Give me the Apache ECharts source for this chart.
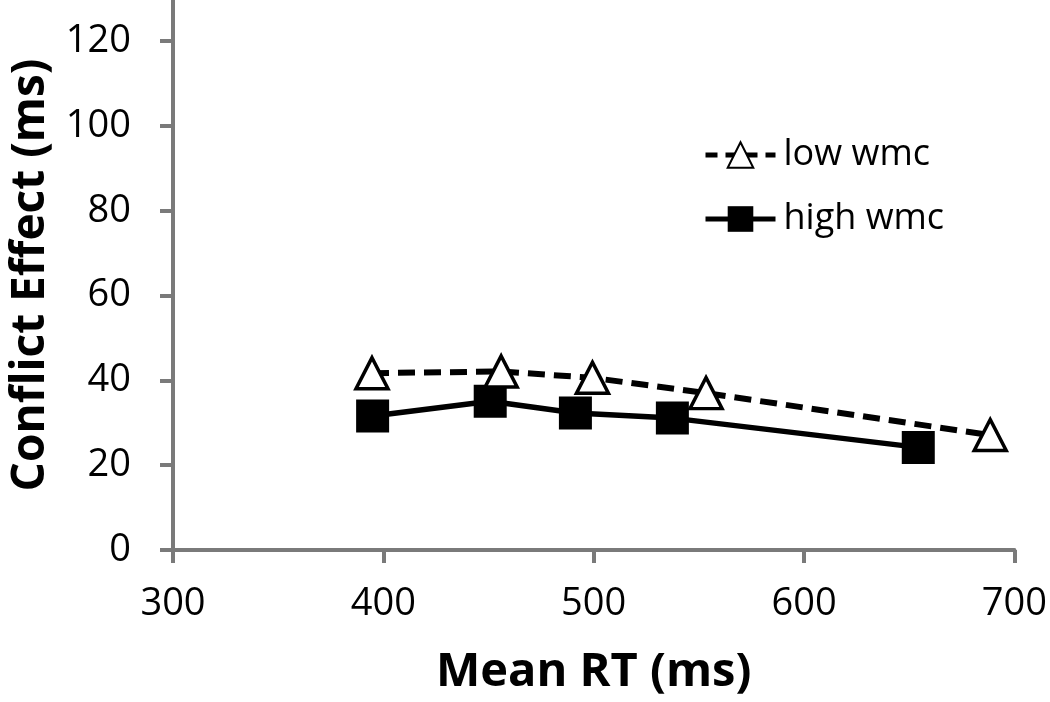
<!DOCTYPE html>
<html>
<head>
<meta charset="utf-8">
<script src="https://cdn.jsdelivr.net/npm/echarts@6/dist/echarts.min.js"></script>
<style>html,body{margin:0;padding:0;background:#fff}#c{width:1050px;height:702px}</style>
</head>
<body>
<div id="c"></div>
<script>
const lowX = [394.6, 456, 499.4, 553.4, 688.5];
const lowY = [41.7, 42.1, 40.6, 37.0, 27.1];
const highX = [394.9, 450.8, 491.3, 537.4, 654.3];
const highY = [31.6, 35.1, 32.3, 31.1, 24.2];
const yTicks = [0, 20, 40, 60, 80, 100, 120];
const xTicks = [300, 400, 500, 600, 700];
const seriesNames = ['low wmc', 'high wmc'];

const chart = echarts.init(document.getElementById('c'));
const axisColor = '#7a7a7a';
const font = '"Open Sans", "DejaVu Sans", sans-serif';
chart.setOption({
  animation: false,
  grid: { left: 170, right: 33, top: 0, bottom: 152 },
  legend: {
    data: [
      { name: seriesNames[0], lineStyle: { width: 5, type: [12, 8], color: '#000' } },
      { name: seriesNames[1], lineStyle: { width: 5, color: '#000' } }
    ],
    orient: 'vertical',
    left: 698, top: 132,
    itemWidth: 70, itemHeight: 32, itemGap: 28,
    textStyle: { fontFamily: font, fontSize: 36, color: '#000', padding: [0, 0, 0, 3] }
  },
  xAxis: {
    type: 'value', min: xTicks[0], max: xTicks[xTicks.length - 1], interval: 100,
    name: 'Mean RT (ms)', nameLocation: 'middle', nameGap: 99,
    nameTextStyle: { fontFamily: font, fontSize: 47, fontWeight: 'bold', color: '#000' },
    axisLine: { lineStyle: { color: axisColor, width: 4 } },
    axisTick: { show: true, length: 13, lineStyle: { color: axisColor, width: 4 } },
    axisLabel: { fontFamily: font, fontSize: 38, color: '#000', margin: 35 },
    splitLine: { show: false }
  },
  yAxis: {
    type: 'value', min: 0, max: 129.7,
    name: 'Conflict Effect (ms)', nameLocation: 'middle', nameGap: 119, nameRotate: 90,
    nameTextStyle: { fontFamily: font, fontSize: 46, fontWeight: 'bold', color: '#000' },
    axisLine: { show: true, lineStyle: { color: axisColor, width: 4 } },
    axisTick: { show: true, length: 13, customValues: yTicks, lineStyle: { color: axisColor, width: 4 } },
    axisLabel: { fontFamily: font, fontSize: 38, color: '#000', margin: 42, customValues: yTicks },
    splitLine: { show: false }
  },
  series: [
    {
      name: seriesNames[1], type: 'line', z: 2,
      data: highX.map((x, i) => [x, highY[i]]),
      symbol: 'rect', symbolSize: 33,
      lineStyle: { color: '#000', width: 5.5 },
      itemStyle: { color: '#000', borderColor: '#000', borderWidth: 0 }
    },
    {
      name: seriesNames[0], type: 'line', z: 3,
      data: lowX.map((x, i) => [x, lowY[i]]),
      symbol: 'triangle', symbolSize: [32, 31],
      lineStyle: { color: '#000', width: 6, type: [17, 9] },
      itemStyle: { color: '#fff', borderColor: '#000', borderWidth: 3.5 }
    }
  ]
});
</script>
</body>
</html>
